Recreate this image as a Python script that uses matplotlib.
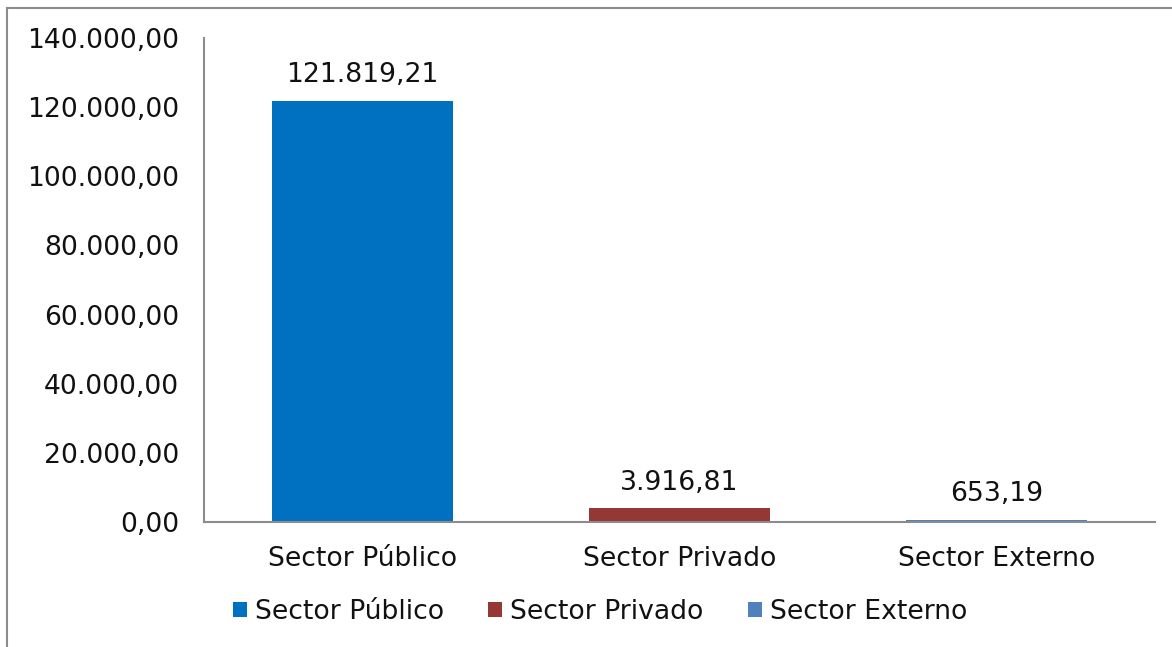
import matplotlib
matplotlib.use("Agg")
import matplotlib.pyplot as plt
from matplotlib.lines import Line2D
from matplotlib.patches import Patch

categories = ["Sector Público", "Sector Privado", "Sector Externo"]
values = [121819.21, 3916.81, 653.19]
labels = ["121.819,21", "3.916,81", "653,19"]
colors = ["#0070C0", "#953735", "#4F81BD"]
yticks = [0, 20000, 40000, 60000, 80000, 100000, 120000, 140000]
ytick_labels = ["0,00", "20.000,00", "40.000,00", "60.000,00", "80.000,00",
                "100.000,00", "120.000,00", "140.000,00"]

plt.rcParams['font.family'] = ['DejaVu Sans']
fs = 19.2

fig = plt.figure(figsize=(11.72, 6.47), dpi=100)
W, H = 1172, 647
ax = fig.add_axes([204 / W, 1 - 522 / H, (1155 - 204) / W, (522 - 38) / H])

x = list(range(len(categories)))
bars = ax.bar(x, values, width=0.574, color=colors)
for xi, v, lab in zip(x, values, labels):
    ax.annotate(lab, (xi, v), xytext=(0, 9), textcoords="offset points",
                ha="center", va="bottom", fontsize=fs, color="#111111")

ax.set_xlim(-0.5, 2.5)
ax.set_ylim(0, 140000)
ax.set_yticks(yticks)
ax.set_yticklabels(ytick_labels, fontsize=fs, color="#111111")
ax.set_xticks(x)
ax.set_xticklabels(categories, fontsize=fs, color="#111111")
ax.tick_params(axis="y", length=0, pad=18)
ax.tick_params(axis="x", length=0, pad=17)
for s in ["top", "right"]:
    ax.spines[s].set_visible(False)
for s in ["left", "bottom"]:
    ax.spines[s].set_color("#8C8C8C")
    ax.spines[s].set_linewidth(1.5)

handles = [Patch(facecolor=c, edgecolor="none") for c in colors]
leg = fig.legend(handles, categories, loc="center", bbox_to_anchor=(600 / W, 1 - 612 / H),
                 ncol=3, frameon=False, fontsize=fs, handlelength=0.53, handleheight=0.53,
                 handletextpad=0.3, columnspacing=1.65)
for t in leg.get_texts():
    t.set_color("#111111")

# figure border (top and left)
fig.add_artist(Line2D([7 / W, 7 / W], [0, 1 - 8 / H], transform=fig.transFigure, color="#8C8C8C", lw=1.5))
fig.add_artist(Line2D([7 / W, 1], [1 - 8 / H, 1 - 8 / H], transform=fig.transFigure, color="#8C8C8C", lw=1.5))

fig.savefig("out.png", dpi=100, facecolor="white")
